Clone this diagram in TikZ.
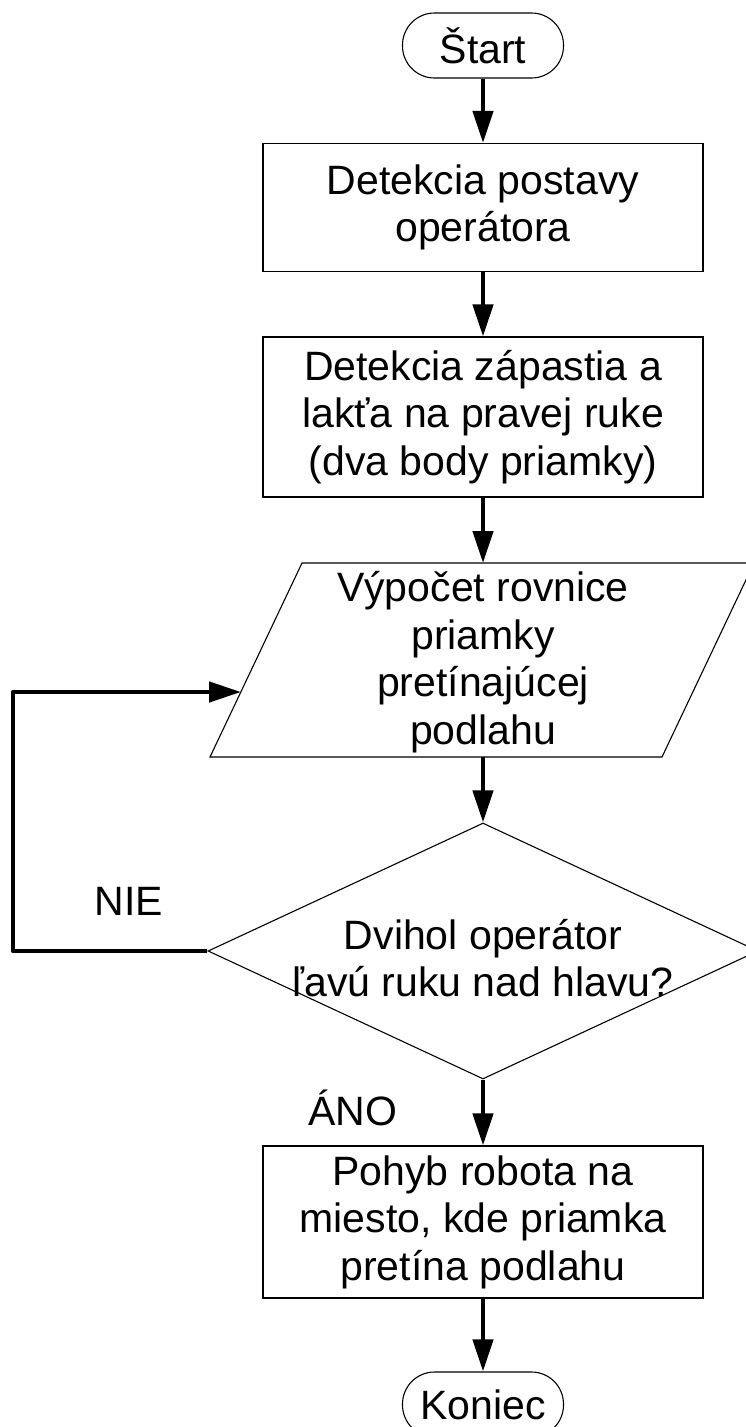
\documentclass[tikz,border=0pt]{standalone}
\usepackage{fontspec}
\setmainfont{Liberation Sans}
\usetikzlibrary{arrows.meta,shapes.geometric}
\begin{document}
\begin{tikzpicture}[x=1pt,y=-1pt,
  txt/.style={font=\fontsize{41}{47.5}\selectfont, align=center, inner sep=0pt},
  procbox/.style={draw, line width=1.1pt, minimum width=440pt, inner sep=0pt},
  term/.style={draw, line width=1.1pt, rounded corners=32pt, minimum width=161pt, minimum height=65pt, inner sep=0pt, font=\fontsize{41}{48}\selectfont},
  conn/.style={line width=4.5pt, -{Triangle[length=32pt,width=20pt]}},
  lbl/.style={font=\fontsize{41}{48}\selectfont, inner sep=0pt, anchor=base}]
\useasboundingbox (0,0) rectangle (745,1427);
\fill[white] (0,0) rectangle (745,1427);

\node[term] (start) at (483,45.5) {Štart};
\node[procbox, minimum height=128pt] (b1) at (483,207.5) {};
\node[txt] at (b1.center) {Detekcia postavy\\operátora};
\node[procbox, minimum height=160pt] (b2) at (483,417) {};
\node[txt] at (b2.center) {Detekcia zápastia a\\lakťa na pravej ruke\\(dva body priamky)};

% parallelogram
\coordinate (pBL) at (210,757);
\coordinate (pBR) at (662,757);
\coordinate (pTR) at (754,563);
\coordinate (pTL) at (302,563);
\draw[line width=1.1pt] (pBL) -- (pBR) -- (pTR) -- (pTL) -- cycle;
\coordinate (pT) at (483,563);
\coordinate (pB) at (483,757);
\coordinate (pL) at (241,692);
\node[txt] (para) at (483,662) {Výpočet rovnice\\priamky\\pretínajúcej\\podlahu};

\node[draw, diamond, line width=1.1pt, minimum width=550pt, minimum height=256pt, inner sep=0pt] (dec) at (483,951) {};
\node[txt] at (483,958) {Dvihol operátor\\ľavú ruku nad hlavu?};

\node[procbox, minimum height=152pt] (b3) at (483,1222) {};
\node[txt] at (b3.center) {Pohyb robota na\\miesto, kde priamka\\pretína podlahu};

\node[term] (end) at (483,1404.5) {Koniec};

\node[lbl] (nie) at (129,915) {NIE};
\node[lbl] (ano) at (353,1125) {ÁNO};

\draw[conn] (start) -- (b1);
\draw[conn] (b1) -- (b2);
\draw[conn] (b2) -- (pT);
\draw[conn] (pB) -- (dec.north);
\draw[conn] (dec.south) -- (b3);
\draw[conn] (b3) -- (end);
\coordinate (c1) at (13,951);
\coordinate (c2) at (13,692);
\draw[conn, line join=round] (dec.west) -- (c1) -- (c2) -- (pL);
\end{tikzpicture}
\end{document}
